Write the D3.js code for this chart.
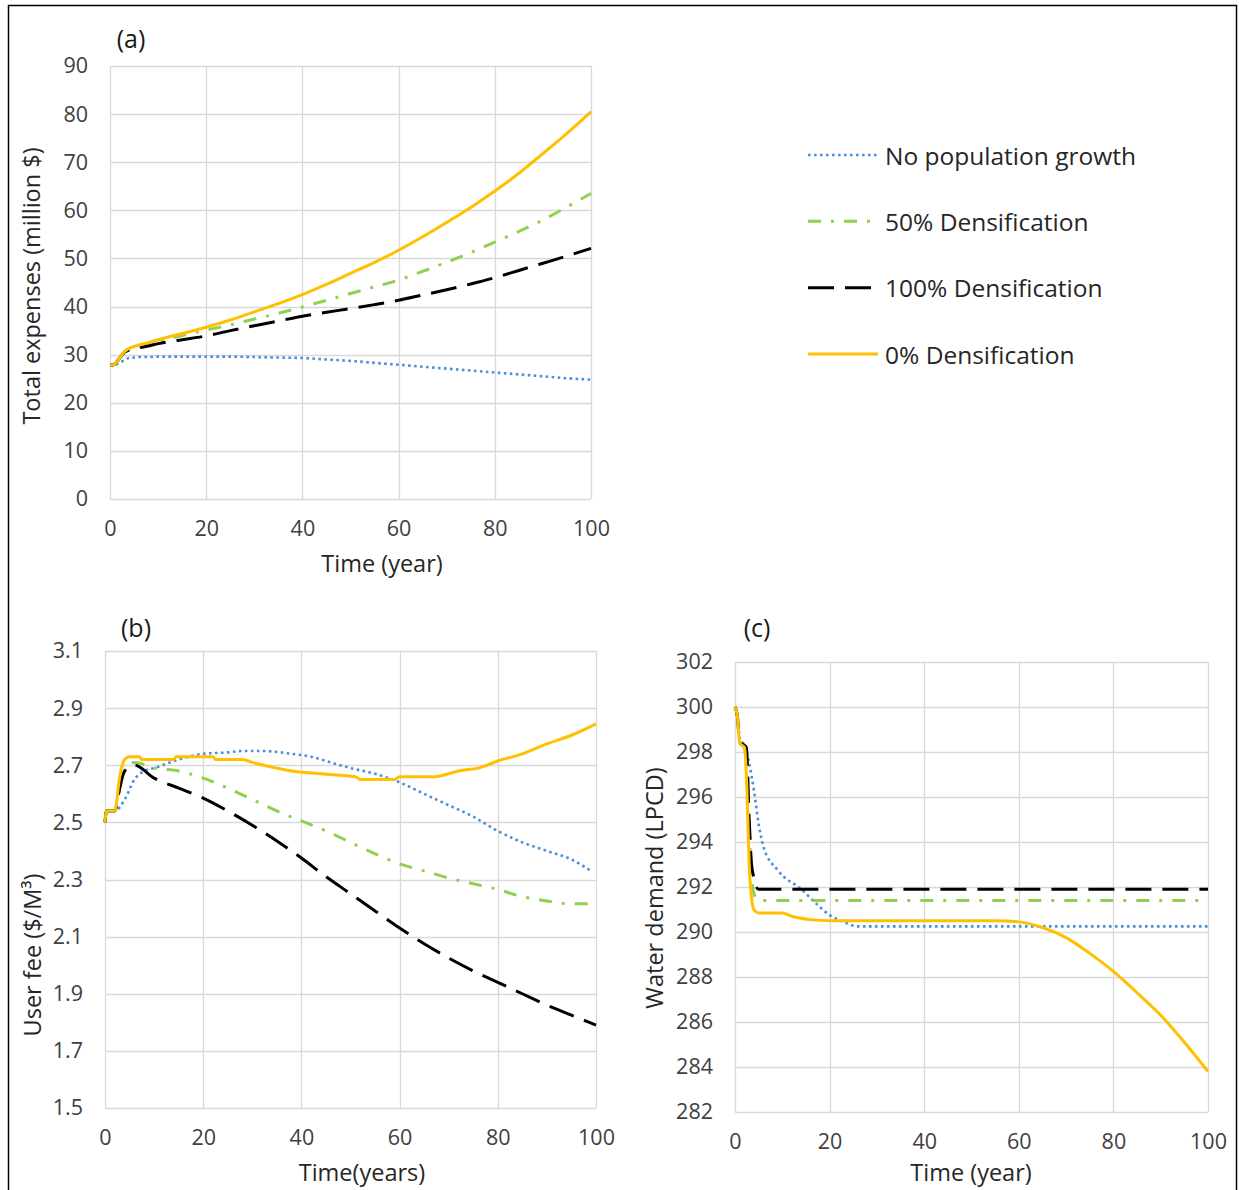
<!DOCTYPE html>
<html>
<head>
<meta charset="utf-8">
<script src="https://cdn.jsdelivr.net/npm/d3@7"></script>
<style>
  body { margin: 0; background: #fff; }
  text { font-family: "Open Sans", "Noto Sans", sans-serif; }
</style>
</head>
<body>
<svg id="fig" width="1239" height="1190"></svg>
<script>
// ---- data ----
var seriesNames = ["No population growth", "50% Densification", "100% Densification", "0% Densification"];

// (a) total expenses, million $
var expYears = [0,1,2,3,4,5,6,8,10,15,20,25,30,35,40,45,50,55,60,65,70,75,80,85,90,95,100];
var expNoGrowth = [27.8,27.9,28.3,28.9,29.3,29.4,29.5,29.5,29.6,29.6,29.6,29.6,29.5,29.4,29.3,29.0,28.7,28.3,27.9,27.5,27.1,26.7,26.3,25.9,25.5,25.1,24.8];
var exp50 = [27.8,28.0,29.3,30.6,31.2,31.5,31.7,32.2,32.8,34.0,35.1,36.2,37.4,38.6,39.9,41.3,42.7,44.1,45.5,47.3,49.2,51.2,53.4,55.6,58.0,60.7,63.5];
var exp100 = [27.8,28.0,29.3,30.5,31.0,31.2,31.4,31.8,32.3,33.1,33.9,35.0,36.0,37.0,38.0,38.8,39.6,40.4,41.3,42.4,43.5,44.7,46.0,47.5,49.0,50.5,52.1];
var exp0 = [27.8,28.0,29.3,30.6,31.3,31.7,32.0,32.5,33.1,34.4,35.7,37.2,38.9,40.6,42.5,44.6,46.9,49.2,51.7,54.5,57.5,60.6,64.0,67.7,71.8,76.0,80.5];

// (b) user fee, $/M3
var feeYearsNoGrowth = [0,0.3,2,4,6,8,10,15,20,25,28,32,38,42,46,50,55,60,65,70,75,80,85,90,95,99];
var feeNoGrowth = [2.50,2.54,2.54,2.58,2.65,2.68,2.69,2.72,2.74,2.745,2.75,2.75,2.74,2.73,2.71,2.69,2.67,2.64,2.60,2.56,2.52,2.47,2.43,2.40,2.37,2.33];
var feeYears50 = [0,0.3,2,3,4,6,10,15,20,25,30,35,40,45,50,55,60,65,70,75,80,85,90,95,99];
var fee50 = [2.50,2.54,2.54,2.62,2.68,2.71,2.69,2.68,2.655,2.62,2.58,2.54,2.505,2.47,2.43,2.39,2.355,2.33,2.305,2.285,2.265,2.24,2.225,2.215,2.215];
var feeYears100 = [0,0.3,2,3,4,6,10,15,20,25,30,35,40,45,50,55,60,65,70,75,80,85,90,95,100];
var fee100 = [2.50,2.54,2.54,2.62,2.68,2.70,2.655,2.62,2.585,2.54,2.49,2.435,2.375,2.31,2.25,2.19,2.13,2.075,2.025,1.98,1.94,1.90,1.86,1.825,1.79];
var feeYears0 = [0,0.3,2,3,4,5,7,7.5,14,14.5,22,22.5,28,30,35,38,44,51,52,59,60,67,70,72,76,80,85,90,95,100];
var fee0 = [2.50,2.54,2.54,2.66,2.72,2.73,2.73,2.72,2.72,2.73,2.73,2.72,2.72,2.71,2.69,2.68,2.67,2.66,2.65,2.65,2.66,2.66,2.67,2.68,2.69,2.715,2.74,2.775,2.805,2.845];

// (c) water demand, LPCD
var demYearsNoGrowth = [0,0.5,1,2,3,4,5,6,9,14,17,20,23,26,100];
var demNoGrowth = [300,299.6,298.6,298.3,297.5,296.3,294.8,293.8,292.75,291.9,291.3,290.75,290.45,290.25,290.25];
var demYears50 = [0,0.5,1,2,3,3.5,4,5,100];
var dem50 = [300,299.6,298.4,298.2,294.5,292.5,291.7,291.4,291.4];
var demYears100 = [0,0.5,1,2,2.4,3,3.5,4,4.5,5,100];
var dem100 = [300,299.6,298.4,298.3,298.2,295,293,292.4,292.0,291.9,291.9];
var demYears0 = [0,0.5,1,2,2.5,3,3.5,4,5,10,12,16,20,55,60,65,70,75,80,85,90,95,100];
var dem0 = [300,299.6,298.4,298.2,296.5,293,291.5,291.0,290.85,290.85,290.7,290.55,290.5,290.5,290.45,290.2,289.75,289.05,288.25,287.3,286.3,285.1,283.8];

var xTicks = [0,20,40,60,80,100];
var expTicks = [0,10,20,30,40,50,60,70,80,90];
var feeTicks = [1.5,1.7,1.9,2.1,2.3,2.5,2.7,2.9,3.1];
var demTicks = [282,284,286,288,290,292,294,296,298,300,302];

// ---- styles ----
var styles = {
  "No population growth": {color: "#4a90d9", width: 2.6, dash: "2.6,3.4"},
  "50% Densification":    {color: "#8fd14f", width: 3,   dash: "13,10,3,10"},
  "100% Densification":   {color: "#000000", width: 3,   dash: "26,11"},
  "0% Densification":     {color: "#ffc000", width: 3,   dash: null}
};

var svg = d3.select("#fig");

svg.append("rect")
    .attr("x", 8.5).attr("y", 5.5)
    .attr("width", 1228).attr("height", 1210)
    .attr("fill", "none").attr("stroke", "#000").attr("stroke-width", 1.5);

function zip(xs, ys) { return xs.map(function(x, i) { return {x: x, y: ys[i]}; }); }

function panel(p) {
    var x = d3.scaleLinear().domain([0, 100]).range([p.left, p.right]),
        y = d3.scaleLinear().domain(p.yDomain).range([p.bottom, p.top]);

    var g = svg.append("g");

    // gridlines
    g.append("g").selectAll("line").data(p.yTicks).enter().append("line")
        .attr("x1", p.left).attr("x2", p.right)
        .attr("y1", function(d) { return Math.round(y(d)) + 0.5; })
        .attr("y2", function(d) { return Math.round(y(d)) + 0.5; })
        .attr("stroke", "#d9d9d9").attr("stroke-width", 1.3);
    g.append("g").selectAll("line").data(xTicks).enter().append("line")
        .attr("y1", p.top).attr("y2", p.bottom)
        .attr("x1", function(d) { return Math.round(x(d)) + 0.5; })
        .attr("x2", function(d) { return Math.round(x(d)) + 0.5; })
        .attr("stroke", "#d9d9d9").attr("stroke-width", 1.3);

    // axes (labels only, Excel style)
    var yAxis = g.append("g")
        .attr("transform", "translate(" + p.left + ",0)")
        .call(d3.axisLeft(y).tickValues(p.yTicks).tickSize(0).tickPadding(22).tickFormat(p.fmt));
    var xAxis = g.append("g")
        .attr("transform", "translate(0," + p.bottom + ")")
        .call(d3.axisBottom(x).tickValues(xTicks).tickSize(0).tickPadding(22));
    [yAxis, xAxis].forEach(function(a) {
        a.select(".domain").remove();
        a.selectAll("text").attr("fill", "#404040").style("font-size", "21.5px")
            .style("font-family", "'Open Sans', sans-serif");
    });

    // series
    var line = d3.line().curve(d3.curveMonotoneX)
        .x(function(d) { return x(d.x); }).y(function(d) { return y(d.y); });
    p.series.forEach(function(s) {
        var st = styles[s.name];
        g.append("path")
            .datum(zip(s.xs, s.ys))
            .attr("d", line)
            .attr("fill", "none")
            .attr("stroke", st.color)
            .attr("stroke-width", st.width)
            .attr("stroke-dasharray", st.dash)
            .attr("stroke-linejoin", "round");
    });

    // titles
    g.append("text").attr("x", p.label[0]).attr("y", p.label[1])
        .attr("text-anchor", "middle").attr("dominant-baseline", "central")
        .attr("fill", "#1a1a1a").style("font-size", "25px").text(p.labelText);
    g.append("text").attr("x", p.xTitle[0]).attr("y", p.xTitle[1])
        .attr("text-anchor", "middle").attr("dominant-baseline", "central")
        .attr("fill", "#262626").style("font-size", "23.5px").text(p.xTitleText);
    g.append("text")
        .attr("transform", "translate(" + p.yTitle[0] + "," + p.yTitle[1] + ") rotate(-90)")
        .attr("text-anchor", "middle").attr("dominant-baseline", "central")
        .attr("fill", "#262626").style("font-size", "23.5px").text(p.yTitleText);
}

panel({
    left: 110, right: 591, top: 66, bottom: 499,
    yDomain: [0, 90], yTicks: expTicks, fmt: d3.format("d"),
    label: [131, 38], labelText: "(a)",
    xTitle: [382, 563], xTitleText: "Time (year)",
    yTitle: [31, 286], yTitleText: "Total expenses (million $)",
    series: [
        {name: seriesNames[0], xs: expYears, ys: expNoGrowth},
        {name: seriesNames[1], xs: expYears, ys: exp50},
        {name: seriesNames[2], xs: expYears, ys: exp100},
        {name: seriesNames[3], xs: expYears, ys: exp0}
    ]
});

panel({
    left: 105, right: 596, top: 651, bottom: 1108,
    yDomain: [1.5, 3.1], yTicks: feeTicks, fmt: d3.format(".1f"),
    label: [136, 627], labelText: "(b)",
    xTitle: [362, 1172], xTitleText: "Time(years)",
    yTitle: [32, 955], yTitleText: "User fee ($/M\u00b3)",
    series: [
        {name: seriesNames[0], xs: feeYearsNoGrowth, ys: feeNoGrowth},
        {name: seriesNames[1], xs: feeYears50, ys: fee50},
        {name: seriesNames[2], xs: feeYears100, ys: fee100},
        {name: seriesNames[3], xs: feeYears0, ys: fee0}
    ]
});

panel({
    left: 735, right: 1208, top: 662, bottom: 1112,
    yDomain: [282, 302], yTicks: demTicks, fmt: d3.format("d"),
    label: [757, 627], labelText: "(c)",
    xTitle: [971, 1172], xTitleText: "Time (year)",
    yTitle: [654, 888], yTitleText: "Water demand (LPCD)",
    series: [
        {name: seriesNames[0], xs: demYearsNoGrowth, ys: demNoGrowth},
        {name: seriesNames[1], xs: demYears50, ys: dem50},
        {name: seriesNames[2], xs: demYears100, ys: dem100},
        {name: seriesNames[3], xs: demYears0, ys: dem0}
    ]
});

// legend
var legendY = d3.scalePoint().domain(seriesNames).range([155, 354]);
var legend = svg.append("g").selectAll("g").data(seriesNames).enter().append("g")
    .attr("transform", function(d) { return "translate(808," + legendY(d) + ")"; });
legend.append("line")
    .attr("x1", 0).attr("x2", 70)
    .attr("stroke", function(d) { return styles[d].color; })
    .attr("stroke-width", function(d) { return styles[d].width; })
    .attr("stroke-dasharray", function(d) { return styles[d].dash; });
legend.append("text")
    .attr("x", 77).attr("dominant-baseline", "central")
    .attr("fill", "#262626").style("font-size", "24.5px")
    .text(function(d) { return d; });
</script>
</body>
</html>
